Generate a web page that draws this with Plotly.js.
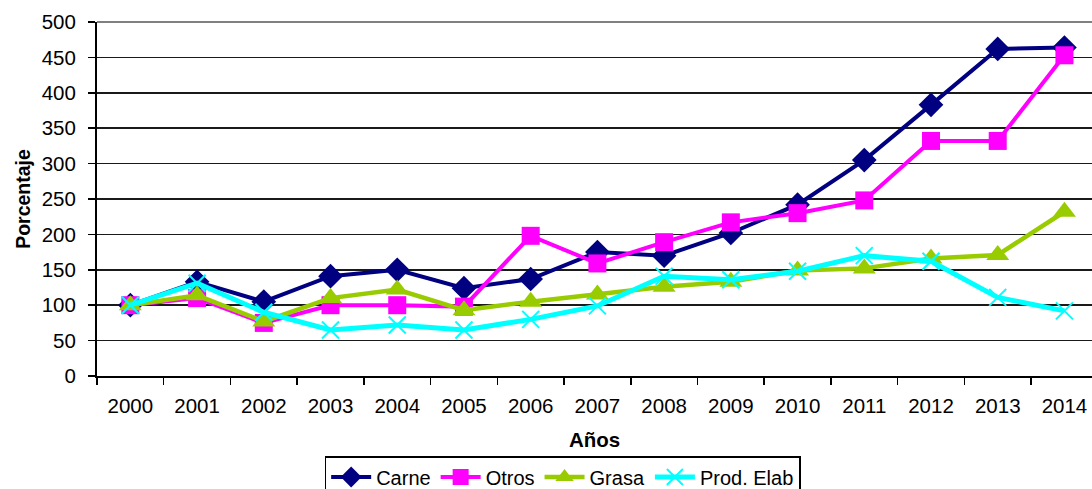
<!DOCTYPE html>
<html>
<head>
<meta charset="utf-8">
<script src="https://cdn.plot.ly/plotly-3.0.1.min.js"></script>
<style>html,body{margin:0;padding:0;background:#fff;}#chart{width:1092px;height:489px;}</style>
</head>
<body>
<div id="chart"></div>
<script>
const years = ["2000","2001","2002","2003","2004","2005","2006","2007","2008","2009","2010","2011","2012","2013","2014"];
const carne = [100,133,105,141,150,124,137,175,170,202,242,305,383,462,464];
const otros = [100,110,75,100,100,98,198,159,189,217,230,248,332,332,453];
const grasa = [100,114,77,110,122,93,105,115,126,133,149,152,166,171,232];
const prodElab = [100,131,90,65,72,65,80,99,141,136,148,170,162,111,92];
const yTicks = [0,50,100,150,200,250,300,350,400,450,500];

const FONT = "'Liberation Sans', Arial, sans-serif";
const traces = [
  {name:"Carne", x:years, y:carne, type:"scatter", mode:"lines+markers",
   line:{color:"#000080", width:4}, marker:{symbol:"diamond", size:19, color:"#000080"}},
  {name:"Otros", x:years, y:otros, type:"scatter", mode:"lines+markers",
   line:{color:"#FF00FF", width:4}, marker:{symbol:"square", size:18, color:"#FF00FF"}},
  {name:"Grasa", x:years, y:grasa, type:"scatter", mode:"lines+markers",
   line:{color:"#99CC00", width:4.5}, marker:{symbol:"triangle-up", size:20, color:"#99CC00"}},
  {name:"Prod. Elab", x:years, y:prodElab, type:"scatter", mode:"lines+markers",
   line:{color:"#00FFFF", width:5}, marker:{symbol:"x-thin", size:17, color:"#00FFFF", line:{color:"#00FFFF", width:2}}}
];

const layout = {
  width:1092, height:489,
  margin:{l:97, r:0, t:22, b:113, autoexpand:false},
  paper_bgcolor:"#fff", plot_bgcolor:"#fff",
  font:{family:FONT, color:"#000", size:20},
  showlegend:true,
  legend:{orientation:"h", x:0.468, xanchor:"center", y:-0.226, yanchor:"top",
    bordercolor:"#000", borderwidth:1.5, bgcolor:"#fff",
    font:{family:FONT, size:20, color:"#000"}, itemwidth:40, tracegroupgap:0},
  xaxis:{type:"category", range:[-0.5, 14.413], tickson:"boundaries",
    ticks:"outside", ticklen:7, tickwidth:1.5, tickcolor:"#000",
    showline:true, linecolor:"#000", linewidth:2, showgrid:false, zeroline:false,
    tickfont:{family:FONT, size:20.5, color:"#000"}, ticklabelstandoff:10,
    title:{text:"<b>Años</b>", font:{family:FONT, size:20.5, color:"#000"}, standoff:17}},
  yaxis:{range:[0,500], tickmode:"array", tickvals:yTicks, ticktext:yTicks.map(String),
    ticks:"outside", ticklen:7, tickwidth:1.5, tickcolor:"#000",
    showline:true, linecolor:"#000", linewidth:2,
    showgrid:true, gridcolor:"#1a1a1a", gridwidth:1.6, zeroline:false,
    tickfont:{family:FONT, size:20.5, color:"#000"}, ticklabelstandoff:8,
    title:{text:"<b>Porcentaje</b>", font:{family:FONT, size:19.5, color:"#000"}, standoff:6}},
  shapes:[{type:"line", xref:"paper", yref:"paper", x0:0, x1:1, y0:1, y1:1,
    line:{color:"#808080", width:2}, layer:"above"}]
};

Plotly.newPlot("chart", traces, layout, {displayModeBar:false, staticPlot:true});
</script>
</body>
</html>
